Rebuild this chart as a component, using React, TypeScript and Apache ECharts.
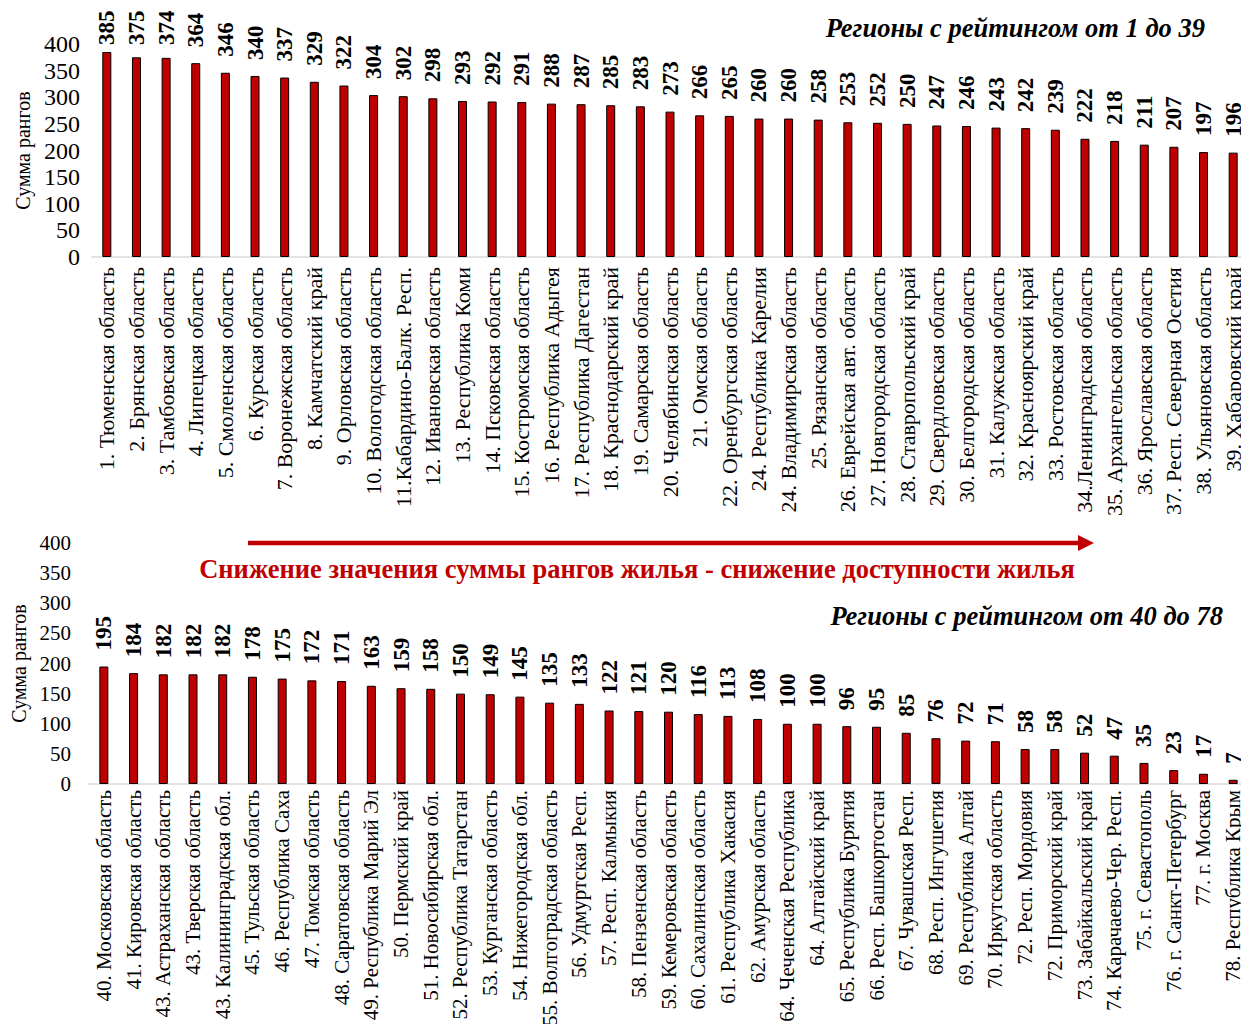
import React, { useEffect, useRef } from "react";
import * as echarts from "echarts";

const topCategories: string[] = [
  "1. Тюменская область",
  "2. Брянская область",
  "3. Тамбовская область",
  "4. Липецкая область",
  "5. Смоленская область",
  "6. Курская область",
  "7. Воронежская область",
  "8. Камчатский край",
  "9. Орловская область",
  "10. Вологодская область",
  "11.Кабардино-Балк. Респ.",
  "12. Ивановская область",
  "13. Республика Коми",
  "14. Псковская область",
  "15. Костромская область",
  "16. Республика Адыгея",
  "17. Республика Дагестан",
  "18. Краснодарский край",
  "19. Самарская область",
  "20. Челябинская область",
  "21. Омская область",
  "22. Оренбургская область",
  "24. Республика Карелия",
  "24. Владимирская область",
  "25. Рязанская область",
  "26. Еврейская авт. область",
  "27. Новгородская область",
  "28. Ставропольский край",
  "29. Свердловская область",
  "30. Белгородская область",
  "31. Калужская область",
  "32. Красноярский край",
  "33. Ростовская область",
  "34.Ленинградская область",
  "35. Архангельская область",
  "36. Ярославская область",
  "37. Респ. Северная Осетия",
  "38. Ульяновская область",
  "39. Хабаровский край",
];

const topValues: number[] = [
  385, 375, 374, 364, 346, 340, 337, 329, 322, 304, 302, 298, 293, 292, 291,
  288, 287, 285, 283, 273, 266, 265, 260, 260, 258, 253, 252, 250, 247, 246,
  243, 242, 239, 222, 218, 211, 207, 197, 196,
];

const bottomCategories: string[] = [
  "40. Московская область",
  "41. Кировская область",
  "43. Астраханская область",
  "43. Тверская область",
  "43. Калининградская обл.",
  "45. Тульская область",
  "46. Республика Саха",
  "47. Томская область",
  "48. Саратовская область",
  "49. Республика Марий Эл",
  "50. Пермский край",
  "51. Новосибирская обл.",
  "52. Республика Татарстан",
  "53. Курганская область",
  "54. Нижегородская обл.",
  "55. Волгоградская область",
  "56. Удмуртская Респ.",
  "57. Респ. Калмыкия",
  "58. Пензенская область",
  "59. Кемеровская область",
  "60. Сахалинская область",
  "61. Республика Хакасия",
  "62. Амурская область",
  "64. Чеченская Республика",
  "64. Алтайский край",
  "65. Республика Бурятия",
  "66. Респ. Башкортостан",
  "67. Чувашская Респ.",
  "68. Респ. Ингушетия",
  "69. Республика Алтай",
  "70. Иркутская область",
  "72. Респ. Мордовия",
  "72. Приморский край",
  "73. Забайкальский край",
  "74. Карачаево-Чер. Респ.",
  "75. г. Севастополь",
  "76. г. Санкт-Петербург",
  "77. г. Москва",
  "78. Республика Крым",
];

const bottomValues: number[] = [
  195, 184, 182, 182, 182, 178, 175, 172, 171, 163, 159, 158, 150, 149, 145,
  135, 133, 122, 121, 120, 116, 113, 108, 100, 100, 96, 95, 85, 76, 72, 71,
  58, 58, 52, 47, 35, 23, 17, 7,
];

const yTicks = { min: 0, max: 400, interval: 50 };
const yAxisName = "Сумма рангов";
const topTitle = "Регионы с рейтингом от 1 до 39";
const bottomTitle = "Регионы с рейтингом от 40 до 78";
const arrowText =
  "Снижение значения суммы рангов жилья - снижение доступности жилья";

const FONT = "'Liberation Serif', 'Times New Roman', serif";
const RED = "#C00000";
const LABEL_GAP = 16;
const LABEL_LEN = 35;
const TOP_LIMIT = 10;

export default function App() {
  const ref = useRef<HTMLDivElement>(null);

  useEffect(() => {
    document.body.style.margin = "0";
    document.body.style.overflow = "hidden";
    if (!ref.current) return;
    const chart = echarts.init(ref.current, undefined, { renderer: "svg" });

    const xAxisCommon = (gridIndex: number, data: string[], margin: number, fontSize: number) => ({
      type: "category" as const,
      gridIndex,
      data,
      axisLine: { show: true, lineStyle: { color: "#d9d9d9", width: 1.5 } },
      axisTick: { show: false },
      axisLabel: {
        interval: 0,
        rotate: 90,
        margin,
        fontFamily: FONT,
        fontSize,
        color: "#000",
      },
    });

    const yAxisCommon = (gridIndex: number, fontSize: number, margin: number) => ({
      type: "value" as const,
      gridIndex,
      min: yTicks.min,
      max: yTicks.max,
      interval: yTicks.interval,
      splitLine: { show: false },
      axisLine: { show: false },
      axisTick: { show: false },
      axisLabel: {
        fontFamily: FONT,
        fontSize,
        color: "#000",
        margin,
      },
      name: yAxisName,
      nameLocation: "middle" as const,
      nameGap: 58,
      nameTextStyle: { fontFamily: FONT, fontSize: 20, color: "#000" },
    });

    const barSeries = (idx: number, data: any[]) => ({
      type: "bar" as const,
      xAxisIndex: idx,
      yAxisIndex: idx,
      data,
      barWidth: 9,
      itemStyle: { color: RED, borderColor: "#000", borderWidth: 1 },
      label: {
        show: true,
        position: "top" as const,
        distance: LABEL_GAP,
        rotate: 90,
        align: "left" as const,
        verticalAlign: "middle" as const,
        fontFamily: FONT,
        fontWeight: "bold" as const,
        fontSize: 23,
        color: "#000",
      },
    });

    const textStyle = (text: string, size: number, fill: string, italic: boolean, align: string) => ({
      text,
      fontFamily: FONT,
      fontSize: size,
      fontWeight: "bold",
      fontStyle: italic ? "italic" : "normal",
      fill,
      textAlign: align,
      textVerticalAlign: "middle",
    });

    chart.setOption({
      animation: false,
      backgroundColor: "#fff",
      grid: [
        { left: 92, top: 44, height: 213, right: 0, containLabel: false, outerBoundsMode: "none" },
        { left: 89, top: 543, height: 241, right: 0, containLabel: false, outerBoundsMode: "none" },
      ],
      xAxis: [
        xAxisCommon(0, topCategories, 10, 22),
        xAxisCommon(1, bottomCategories, 6, 21),
      ],
      yAxis: [yAxisCommon(0, 24, 12), yAxisCommon(1, 21, 18)],
      series: [barSeries(0, topValues), barSeries(1, bottomValues)],
      graphic: [
        { type: "text", x: 1205, y: 28, style: textStyle(topTitle, 26.5, "#000", true, "right") },
        { type: "text", x: 1223, y: 616, style: textStyle(bottomTitle, 26.5, "#000", true, "right") },
        { type: "text", x: 637, y: 569, style: textStyle(arrowText, 26.5, RED, false, "center") },
        {
          type: "line",
          shape: { x1: 248, y1: 543, x2: 1080, y2: 543 },
          style: { stroke: RED, lineWidth: 4.5 },
        },
        {
          type: "polygon",
          shape: { points: [[1078, 535], [1094, 543], [1078, 551]] },
          style: { fill: RED },
        },
      ],
    });

    // Keep the tallest labels of the upper chart inside the picture, as the reference does.
    const topData = topValues.map((v, i) => {
      const py = chart.convertToPixel({ gridIndex: 0 }, [i, v]) as number[];
      const room = py[1] - TOP_LIMIT - LABEL_LEN;
      const d = Math.max(3, Math.min(LABEL_GAP, room));
      return { value: v, label: { distance: d } };
    });
    chart.setOption({ series: [{ data: topData }, {}] });

    return () => chart.dispose();
  }, []);

  return (
    <div style={{ width: 1241, height: 1024, overflow: "hidden" }}>
      <div ref={ref} style={{ width: 1248, height: 1024 }} />
    </div>
  );
}
